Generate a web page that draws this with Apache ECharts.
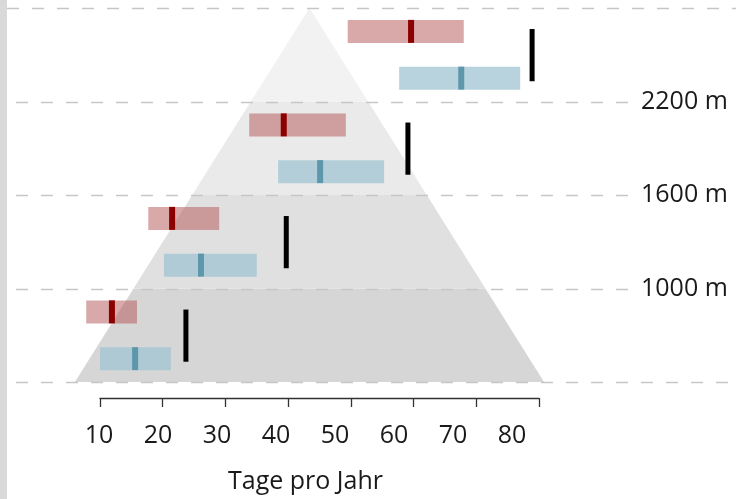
<!DOCTYPE html>
<html>
<head>
<meta charset="utf-8">
<script src="https://cdn.jsdelivr.net/npm/echarts@6/dist/echarts.min.js"></script>
<style>
html,body{margin:0;padding:0;background:#fff;}
#chart{width:736px;height:499px;}
</style>
</head>
<body>
<div id="chart"></div>
<script>
// ---- data ----
const levels = [400, 1000, 1600, 2200, 2800];           // elevation band borders (m)
const labeledLevels = [1000, 1600, 2200];
const bandColors = ['#d6d6d6', '#e0e0e0', '#eaeaea', '#f2f2f2'];
const pyramidApexX = [43.4];                             // apex x at top level
const pyramidBaseX = [6.0, 80.8];                        // base left/right at bottom level
const xTicks = [10, 20, 30, 40, 50, 60, 70, 80];

const redY      = [2650, 2050, 1450, 850];
const redLow    = [49.5, 33.8, 17.7, 7.8];
const redHigh   = [68.0, 49.2, 29.0, 15.9];
const redMedian = [59.6, 39.3, 21.5, 11.9];

const blueY      = [2350, 1750, 1150, 550];
const blueLow    = [57.7, 38.4, 20.2, 10.0];
const blueHigh   = [77.0, 55.3, 35.0, 21.3];
const blueMedian = [67.6, 45.1, 26.1, 15.6];

const markX     = [78.9, 59.1, 39.7, 23.7];
const markYLow  = [2330, 1730, 1130, 530];
const markYHigh = [2665, 2065, 1465, 865];

// ---- build ----
const yMin = levels[0], yMax = levels[levels.length - 1];
const bands = [];
for (let i = 0; i < levels.length - 1; i++) bands.push([levels[i], levels[i + 1], i]);

function edgeX(m) {
  const t = (m - yMin) / (yMax - yMin);
  return [pyramidBaseX[0] + (pyramidApexX[0] - pyramidBaseX[0]) * t,
          pyramidBaseX[1] + (pyramidApexX[0] - pyramidBaseX[1]) * t];
}

const redData = redY.map((y, i) => [y, redLow[i], redHigh[i], redMedian[i]]);
const blueData = blueY.map((y, i) => [y, blueLow[i], blueHigh[i], blueMedian[i]]);
const markData = markX.map((x, i) => [x, markYLow[i], markYHigh[i]]);

const FONT = 'Open Sans';

function rangeBar(fill, medFill) {
  return function (params, api) {
    const y = api.value(0);
    const a = api.coord([api.value(1), y]);
    const b = api.coord([api.value(2), y]);
    const m = api.coord([api.value(3), y]);
    const h = 23;
    return {
      type: 'group',
      children: [
        { type: 'rect', shape: { x: a[0], y: a[1] - h / 2, width: b[0] - a[0], height: h }, style: { fill: fill } },
        { type: 'rect', shape: { x: m[0] - 3, y: m[1] - h / 2, width: 6, height: h }, style: { fill: medFill } }
      ]
    };
  };
}

const chart = echarts.init(document.getElementById('chart'), null, { renderer: 'canvas' });
chart.setOption({
  animation: false,
  backgroundColor: '#ffffff',
  graphic: [{ type: 'rect', left: 0, top: 0, shape: { width: 7, height: 499 }, style: { fill: '#d9d9d9' } }],
  grid: [
    { left: 100, right: 197, top: 8, bottom: 117 },
    { left: 99, width: 413, top: 8, bottom: 117 }
  ],
  xAxis: [
    {
      type: 'value', gridIndex: 0, min: xTicks[0], max: xTicks[xTicks.length - 1], interval: 10,
      position: 'bottom', offset: 16,
      axisLine: { show: true, lineStyle: { color: '#333', width: 1.3 } },
      axisTick: { show: true, length: 9, lineStyle: { color: '#333', width: 1.3 } },
      axisLabel: { show: false }, splitLine: { show: false }
    },
    {
      type: 'value', gridIndex: 1, min: xTicks[0], max: xTicks[xTicks.length - 1], interval: 10,
      position: 'bottom', offset: 16,
      axisLine: { show: false }, axisTick: { show: false }, splitLine: { show: false },
      axisLabel: { show: true, margin: 31, fontFamily: FONT, fontSize: 25, color: '#1a1a1a' },
      name: 'Tage pro Jahr', nameLocation: 'middle', nameGap: 77,
      nameTextStyle: { fontFamily: FONT, fontSize: 25, color: '#1a1a1a' }
    }
  ],
  yAxis: [
    {
      type: 'value', gridIndex: 0, min: yMin, max: yMax, interval: 600, position: 'right',
      axisLine: { show: false }, axisTick: { show: false }, splitLine: { show: false },
      axisLabel: {
        show: true, margin: 102, fontFamily: FONT, fontSize: 25, color: '#1a1a1a',
        padding: [4, 0, 0, 0],
        formatter: v => labeledLevels.indexOf(v) >= 0 ? v + ' m' : ''
      }
    },
    { type: 'value', gridIndex: 1, min: yMin, max: yMax, show: false }
  ],
  series: [
    {
      type: 'custom', name: 'pyramid', xAxisIndex: 0, yAxisIndex: 0, z: 1, clip: false,
      data: bands,
      renderItem: function (params, api) {
        const lo = api.value(0), hi = api.value(1), idx = api.value(2);
        const eLo = edgeX(lo), eHi = edgeX(hi);
        const pts = [
          api.coord([eLo[0], lo]), api.coord([eLo[1], lo]),
          api.coord([eHi[1], hi]), api.coord([eHi[0], hi])
        ];
        return { type: 'polygon', shape: { points: pts }, style: { fill: bandColors[idx] } };
      }
    },
    {
      type: 'custom', name: 'levels', xAxisIndex: 0, yAxisIndex: 0, z: 2, clip: false,
      data: levels.map(l => [l]),
      renderItem: function (params, api) {
        const l = api.value(0);
        const y = Math.round(api.coord([10, l])[1]) + 0.5;
        const x0 = l === yMax ? 7 : 16;
        const x1 = labeledLevels.indexOf(l) >= 0 ? 628 : api.getWidth();
        return {
          type: 'line', shape: { x1: x0, y1: y, x2: x1, y2: y },
          style: { stroke: '#c6c6c6', lineWidth: 1.4, lineDash: [12, 13] }
        };
      }
    },
    {
      type: 'custom', name: 'rot', xAxisIndex: 0, yAxisIndex: 0, z: 3, clip: false,
      data: redData, renderItem: rangeBar('rgba(180,84,84,0.5)', '#8b0000')
    },
    {
      type: 'custom', name: 'blau', xAxisIndex: 0, yAxisIndex: 0, z: 3, clip: false,
      data: blueData, renderItem: rangeBar('rgba(160,196,210,0.75)', '#5e97ac')
    },
    {
      type: 'custom', name: 'marker', xAxisIndex: 0, yAxisIndex: 0, z: 4, clip: false,
      data: markData,
      renderItem: function (params, api) {
        const a = api.coord([api.value(0), api.value(1)]);
        const b = api.coord([api.value(0), api.value(2)]);
        return { type: 'rect', shape: { x: a[0] - 2.5, y: b[1], width: 5, height: a[1] - b[1] }, style: { fill: '#000' } };
      }
    }
  ]
});
</script>
</body>
</html>
